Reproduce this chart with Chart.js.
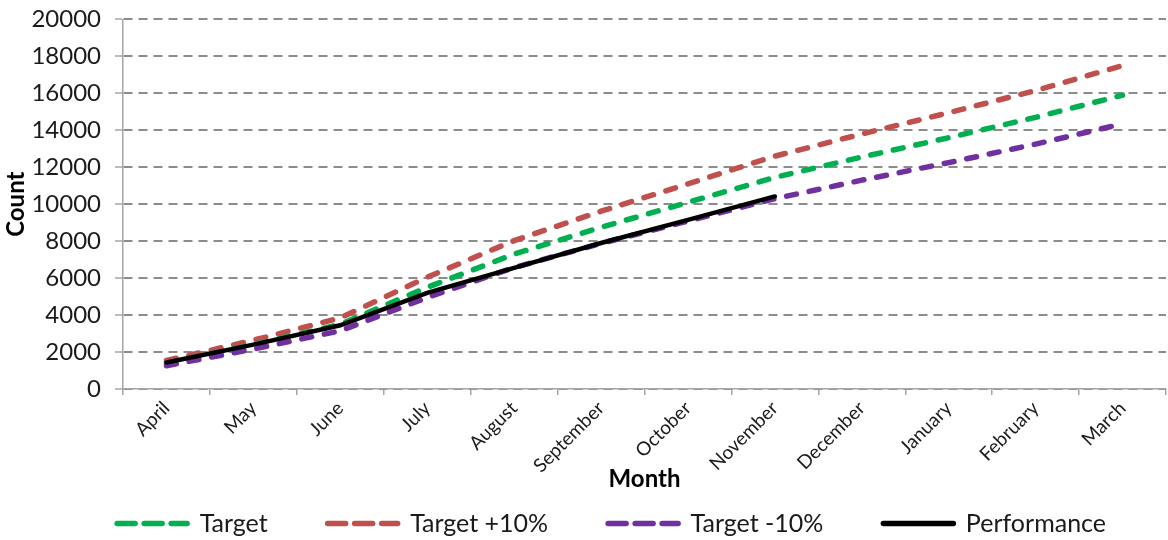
<!DOCTYPE html>
<html>
<head>
<meta charset="utf-8">
<script src="https://cdn.jsdelivr.net/npm/chart.js@4"></script>
<style>
  html, body { margin: 0; padding: 0; background: #fff; }
</style>
</head>
<body>
<canvas id="chart" width="1168" height="540"></canvas>
<script>
// Months of the financial year (x axis)
const months = ["April", "May", "June", "July", "August", "September",
  "October", "November", "December", "January", "February", "March"];

// Cumulative counts
const target = [1400, 2400, 3500, 5500, 7300, 8750, 10100, 11450, 12550, 13600, 14700, 15900];
const targetPlus10 = [1540, 2640, 3850, 6050, 8030, 9620, 11100, 12600, 13800, 14950, 16150, 17500];
const targetMinus10 = [1260, 2160, 3150, 4950, 6570, 7880, 9090, 10300, 11300, 12250, 13250, 14350];
const performance = [1430, 2400, 3450, 5200, 6550, 7900, 9150, 10420, null, null, null, null];

// Y axis ticks
const yMin = 0;
const yMax = 20000;
const yStep = 2000;

const FONT = "Lato";
const TEXT = "#1a1a1a";
const AXIS = "#a6a6a6";
const GRID = "#8c8c8c";

// Shared look for the dashed target lines
function dashed(label, data, color, order) {
  return {
    label: label,
    data: data,
    borderColor: color,
    backgroundColor: color,
    borderWidth: 5.5,
    borderDash: [10, 13],
    borderCapStyle: "round",
    pointRadius: 0,
    tension: 0,
    order: order
  };
}

new Chart(document.getElementById("chart").getContext("2d"), {
  type: "line",
  data: {
    labels: months,
    datasets: [
      dashed("Target", target, "#00b050", 2),
      dashed("Target +10%", targetPlus10, "#c0504d", 3),
      dashed("Target -10%", targetMinus10, "#7030a0", 1),
      {
        label: "Performance",
        data: performance,
        borderColor: "#000",
        backgroundColor: "#000",
        borderWidth: 4.5,
        borderCapStyle: "round",
        pointRadius: 0,
        tension: 0,
        order: 0
      }
    ]
  },
  options: {
    responsive: false,
    animation: false,
    devicePixelRatio: 1,
    layout: { padding: { top: 0, right: 2, left: 0, bottom: -6 } },
    plugins: {
      tooltip: { enabled: false },
      legend: {
        position: "bottom",
        align: "end",
        labels: {
          usePointStyle: true,
          pointStyle: "line",
          pointStyleWidth: 70,
          padding: 60,
          color: TEXT,
          font: { family: FONT, size: 25 },
          sort: (a, b) => a.datasetIndex - b.datasetIndex,
          // legend samples: longer dashes than the plot lines, as in the picture
          generateLabels: (chart) => {
            const items = Chart.defaults.plugins.legend.labels.generateLabels(chart);
            items.forEach(item => {
              const ds = chart.data.datasets[item.datasetIndex];
              item.lineDash = ds.borderDash ? [18, 9] : [];
              item.lineWidth = 5.5;
              item.lineCap = "round";
              item.strokeStyle = ds.borderColor;
            });
            return items;
          }
        }
      }
    },
    scales: {
      x: {
        offset: true,
        grid: {
          offset: true,
          drawOnChartArea: false,
          drawTicks: true,
          tickLength: 6,
          color: AXIS,
          lineWidth: 1.5
        },
        border: { color: AXIS, width: 1.5 },
        ticks: {
          autoSkip: false,
          minRotation: 45,
          maxRotation: 45,
          padding: 2,
          color: TEXT,
          font: { family: FONT, size: 19 }
        },
        title: {
          display: true,
          text: "Month",
          color: "#000",
          font: { family: FONT, size: 24, weight: "bold" },
          padding: { top: 0, bottom: -43 }
        },
        // the legend row sits under the rotated labels, so keep the box short
        // and let the labels run below it without being clipped
        afterFit: (scale) => {
          scale.height = 62;
          scale._computeLabelArea = () => undefined;
        }
      },
      y: {
        min: yMin,
        max: yMax,
        grid: {
          color: GRID,
          lineWidth: 2,
          tickLength: 8,
          tickColor: AXIS,
          tickWidth: 1.5,
          tickBorderDash: []
        },
        border: { color: AXIS, width: 1.5, dash: [9, 6] },
        ticks: {
          stepSize: yStep,
          padding: 14,
          color: TEXT,
          // small lineHeight keeps the top of the plot near the canvas edge
          font: { family: FONT, size: 24, lineHeight: 0.45 },
          callback: (value) => String(value)
        },
        title: {
          display: true,
          text: "Count",
          color: "#000",
          font: { family: FONT, size: 24, weight: "bold" },
          padding: 2
        },
        afterFit: (scale) => { scale.width = 123; }
      }
    }
  }
});
</script>
</body>
</html>
